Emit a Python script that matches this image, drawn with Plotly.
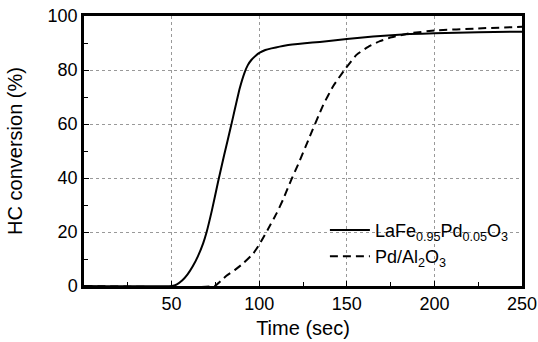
import plotly.graph_objects as go

# Time (sec) and HC conversion (%)
t_lafe = [0, 50, 53, 56, 59, 62, 65, 68, 70, 73, 76.5, 80, 84, 88.9, 91.7, 93.5, 95.5, 98, 100.3, 103.5, 107, 115, 126, 134.6, 150, 165, 186, 200, 225, 250]
v_lafe = [0, 0, 0.6, 2, 4.2, 7.2, 11, 15.8, 20, 28, 38.5, 48.5, 59.5, 73.2, 79.1, 81.8, 83.7, 85.3, 86.4, 87.4, 88.0, 89.1, 89.9, 90.4, 91.5, 92.4, 93.3, 93.6, 94.0, 94.2]

t_pd = [0, 74.6, 78, 81.3, 86, 90.7, 96.7, 100, 105, 110, 113.6, 118.4, 122.2, 128, 136.5, 142.2, 148.9, 155.5, 162.2, 168.9, 175.5, 186, 200, 225, 250]
v_pd = [0, 0, 1.8, 3.8, 5.9, 8.3, 12.1, 15.3, 21, 27, 32, 39.5, 45, 54, 67, 74, 80.2, 85.6, 88.6, 90.7, 92.1, 93.6, 94.6, 95.4, 96.0]

x_ticks = [50, 100, 150, 200, 250]
y_ticks = [0, 20, 40, 60, 80, 100]

name_lafe = "LaFe<sub>0.95</sub>Pd<sub>0.05</sub>O<sub>3</sub>"
name_pd = "Pd/Al<sub>2</sub>O<sub>3</sub>"

FONT = "Liberation Sans, Arial, sans-serif"

fig = go.Figure()
fig.add_trace(go.Scatter(x=t_lafe, y=v_lafe, mode="lines", name=name_lafe,
                         line=dict(color="black", width=2, shape="spline", smoothing=0.4)))
fig.add_trace(go.Scatter(x=t_pd, y=v_pd, mode="lines", name=name_pd,
                         line=dict(color="black", width=2, dash="8px,5px", shape="spline", smoothing=0.4)))

axis_common = dict(
    showgrid=True, gridcolor="#999", griddash="dot", gridwidth=1,
    showline=True, linecolor="black", linewidth=2.5, mirror=True,
    ticks="inside", ticklen=5, tickcolor="black", tickwidth=1,
    zeroline=False, automargin=False, ticklabeloverflow="allow",
    tickfont=dict(size=18, family=FONT),
)

fig.update_layout(
    width=538, height=342,
    margin=dict(l=84, r=16, t=16, b=56),
    plot_bgcolor="white", paper_bgcolor="white",
    font=dict(family=FONT, size=18, color="black"),
    showlegend=True,
    legend=dict(x=0.55, y=0.275, xanchor="left", yanchor="top",
                bgcolor="rgba(0,0,0,0)", font=dict(size=18, family=FONT),
                itemwidth=40),
    xaxis=dict(range=[0, 250], tickvals=x_ticks, ticktext=[str(v) for v in x_ticks],
               minor=dict(dtick=25, tick0=0, ticks="inside", ticklen=4, tickcolor="black", showgrid=False),
               title=dict(text="Time (sec)", font=dict(size=20, family=FONT), standoff=8),
               **axis_common),
    yaxis=dict(range=[0, 100], tickvals=y_ticks,
               minor=dict(dtick=10, tick0=0, ticks="inside", ticklen=4, tickcolor="black", showgrid=False),
               title=dict(text="HC conversion (%)", font=dict(size=20, family=FONT), standoff=20),
               **axis_common),
)

# remove the browser's default 8px body margin so the figure fills the window
fig.write_html("out.html", config={"displayModeBar": False},
               post_script="document.body.style.margin='0';")
